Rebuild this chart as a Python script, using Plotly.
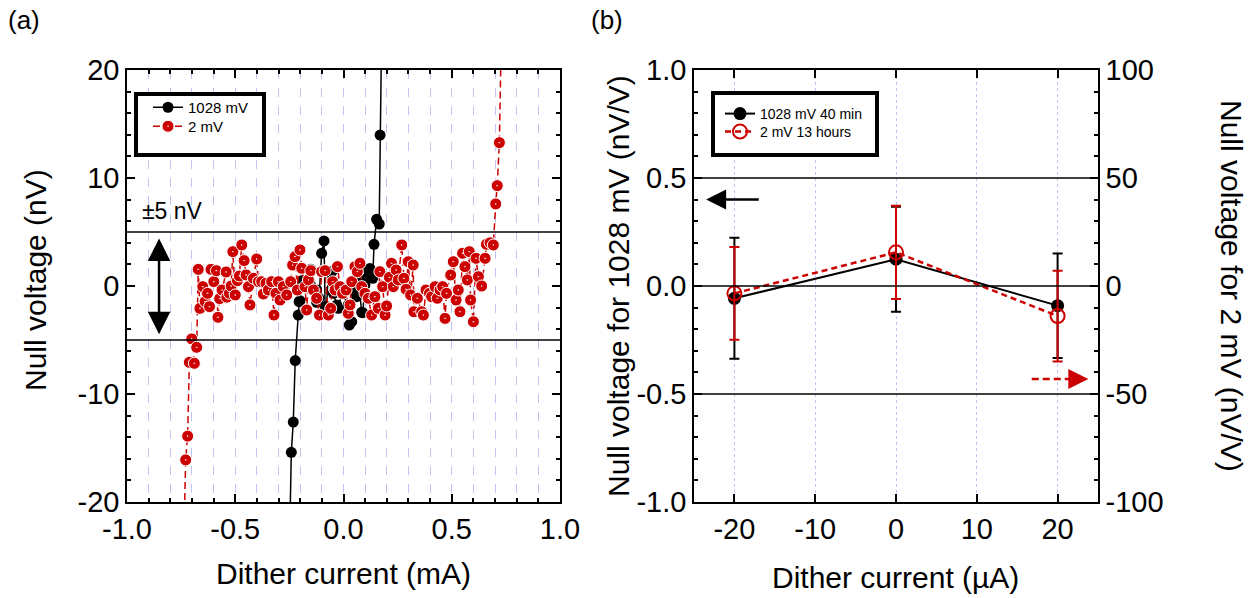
import plotly.graph_objects as go

# ---------------- data: panel (a) ----------------
a_black_x = [-0.255, -0.241, -0.232, -0.223, -0.209, -0.205, -0.201, -0.193, -0.155, -0.151,
             -0.124, -0.124, -0.113, -0.101, -0.090, -0.085, -0.078, -0.070, -0.054, -0.047,
             -0.031, -0.024, -0.008, 0.022, 0.027, 0.038, 0.045, 0.053, 0.061, 0.068,
             0.084, 0.089, 0.099, 0.107, 0.115, 0.122, 0.135, 0.141, 0.153, 0.165,
             0.169, 0.180]
a_black_y = [-30, -15.4, -12.6, -6.9, -2.69, -1.45, -1.36, 0.49, 1.33, 1.54,
             -0.37, -1.51, -1.14, 3.03, 4.17, -1.91, -1.91, 1.33, 1.33, -0.68,
             -1.76, -2.07, -0.68, -1.76, -3.61, -3.3, -0.37, -0.53, -0.99, 0.71,
             -2.44, -2.47, 0.09, 0.71, 1.48, 1.63, 0.71, 3.86, 6.17, 5.74,
             13.98, 30]

a_red_x = [-0.745, -0.729, -0.720, -0.712, -0.689, -0.701, -0.678, -0.671, -0.663, -0.650,
           -0.639, -0.628, -0.619, -0.612, -0.599, -0.587, -0.580, -0.572, -0.561, -0.542,
           -0.539, -0.527, -0.519, -0.511, -0.500, -0.490, -0.481, -0.470, -0.459, -0.450,
           -0.439, -0.432, -0.416, -0.401, -0.393, -0.378, -0.370, -0.358, -0.347, -0.332,
           -0.321, -0.312, -0.301, -0.293, -0.278, -0.262, -0.244, -0.235, -0.224, -0.213,
           -0.201, -0.193, -0.178, -0.170, -0.162, -0.151, -0.139, -0.124, -0.111, -0.101,
           -0.085, -0.070, -0.059, -0.050, -0.039, -0.028, -0.016, -0.004, 0.012, 0.022,
           0.030, 0.038, 0.053, 0.064, 0.076, 0.084, 0.099, 0.115, 0.130, 0.145,
           0.161, 0.168, 0.181, 0.192, 0.199, 0.212, 0.222, 0.230, 0.243, 0.253,
           0.269, 0.279, 0.289, 0.299, 0.310, 0.322, 0.325, 0.341, 0.361, 0.369,
           0.381, 0.397, 0.407, 0.423, 0.433, 0.446, 0.458, 0.469, 0.476, 0.495,
           0.507, 0.520, 0.530, 0.538, 0.550, 0.561, 0.572, 0.581, 0.587, 0.600,
           0.612, 0.623, 0.638, 0.654, 0.660, 0.677, 0.692, 0.703, 0.710, 0.720,
           0.735]
a_red_y = [-30, -16.1, -13.9, -7.07, -7.16, -4.9, -5.68, 1.54, -2.07, -0.06,
           -1.44, -0.68, -1.91, 1.54, 0.40, 1.42, -2.90, -1.17, -0.37, 1.30,
           -1.04, -0.68, 0.0, 3.18, -0.83, 0.49, 0.93, 3.80, 2.35, 1.02,
           -0.06, -1.75, 0.71, 2.50, 0.40, 0.40, -0.74, 0.25, -0.37, 0.40,
           -2.69, -0.68, 0.40, -1.30, -0.06, -0.83, 0.40, 1.94, 2.72, -0.37,
           3.34, 1.64, -0.06, -2.22, 0.56, 1.42, -0.37, -1.14, -2.69, 1.33,
           1.42, -2.69, -2.07, 0.40, -0.37, 1.79, -0.06, -0.68, -0.37, -2.53,
           -1.75, 0.40, 1.79, 1.33, 2.10, -0.06, -0.68, -1.14, -2.69, -0.99,
           -2.07, 1.33, -0.06, -2.69, -1.85, 0.80, 2.10, -0.06, 1.48, 0.56,
           3.80, 0.71, -0.31, 2.25, -0.83, 1.94, -2.38, -1.14, -2.38, -2.69,
           -0.37, -0.68, -0.99, -0.06, -1.14, -0.37, -0.06, -3.0, -0.68, 1.02,
           2.25, -1.30, -0.37, -2.38, 3.03, 1.79, 0.56, 3.18, -1.30, -3.31,
           2.56, 0.86, 0.0, 2.56, 3.86, 4.0, 3.8, 7.6, 9.29, 13.27,
           30]

# ---------------- data: panel (b) ----------------
b_x = [-20, 0, 20]
b_black_y = [-0.057, 0.124, -0.091]
b_black_err = [0.28, 0.243, 0.242]
b_red_y = [-3.4, 15.6, -13.9]
b_red_err = [21.5, 21.6, 21.0]

# ---------------- tick labels ----------------
a_xticks = [-1.0, -0.5, 0.0, 0.5, 1.0]
a_xlabels = ["-1.0", "-0.5", "0.0", "0.5", "1.0"]
a_yticks = [-20, -10, 0, 10, 20]
a_ylabels = ["-20", "-10", "0", "10", "20"]
b_xticks = [-20, -10, 0, 10, 20]
b_xlabels = ["-20", "-10", "0", "10", "20"]
b_yticks = [-1.0, -0.5, 0.0, 0.5, 1.0]
b_ylabels = ["-1.0", "-0.5", "0.0", "0.5", "1.0"]
b_y2ticks = [-100, -50, 0, 50, 100]
b_y2labels = ["-100", "-50", "0", "50", "100"]

RED = "#cc0000"
FONT = "Arial, 'Liberation Sans', sans-serif"
W, H = 1256, 598
GRID = "#c4c4f2"

fig = go.Figure()

fig.add_trace(go.Scatter(
    x=a_black_x, y=a_black_y, mode="lines+markers", name="1028 mV",
    line=dict(color="black", width=1.5),
    marker=dict(symbol="circle", size=11, color="black"),
    xaxis="x", yaxis="y", legend="legend"))
fig.add_trace(go.Scatter(
    x=a_red_x, y=a_red_y, mode="lines+markers", name="2 mV",
    line=dict(color=RED, width=1.5, dash="7px,4px"),
    marker=dict(symbol="circle-dot", size=12, color=RED, line=dict(color="white", width=1)),
    xaxis="x", yaxis="y", legend="legend2"))

fig.add_trace(go.Scatter(
    x=b_x, y=b_black_y, mode="lines+markers", name="1028 mV 40 min",
    line=dict(color="black", width=2),
    marker=dict(symbol="circle", size=13, color="black"),
    error_y=dict(type="data", array=b_black_err, color="black", thickness=2, width=5),
    xaxis="x2", yaxis="y2", legend="legend3"))
fig.add_trace(go.Scatter(
    x=b_x, y=b_red_y, mode="lines+markers", name="2 mV 13 hours",
    line=dict(color=RED, width=2.5, dash="6px,4px"),
    marker=dict(symbol="circle-open", size=14, color=RED, line=dict(width=2)),
    error_y=dict(type="data", array=b_red_err, color=RED, thickness=2, width=5),
    xaxis="x2", yaxis="y3", legend="legend4"))

ydom = [1 - 502 / H, 1 - 70 / H]
tickfont = dict(family=FONT, size=29, color="black")
common = dict(showline=True, linecolor="black", linewidth=1.5, ticks="inside",
              tickcolor="black", tickwidth=1.5, zeroline=False, tickfont=tickfont,
              automargin=False, tickmode="array")


def leg(x, y, size):
    return dict(x=x / W, y=1 - y / H, xanchor="left", yanchor="top",
                bgcolor="rgba(0,0,0,0)", borderwidth=0,
                font=dict(family=FONT, size=size, color="black"))


fig.update_layout(
    template="none",
    width=W, height=H, margin=dict(l=0, r=0, t=0, b=0, autoexpand=False),
    paper_bgcolor="white", plot_bgcolor="white",
    font=dict(family=FONT, color="black"),
    xaxis=dict(domain=[127 / W, 560 / W], range=[-1, 1],
               tickvals=a_xticks, ticktext=a_xlabels,
               mirror="ticks", ticklen=8, anchor="y",
               showgrid=True, gridcolor=GRID, griddash="dash", gridwidth=1,
               minor=dict(dtick=0.1, tick0=0, ticks="inside", ticklen=4, tickcolor="black",
                          showgrid=True, gridcolor=GRID, griddash="dash", gridwidth=1),
               **common),
    yaxis=dict(domain=ydom, range=[-20, 20], tickvals=a_yticks, ticktext=a_ylabels,
               mirror="ticks", ticklen=8, anchor="x", showgrid=False,
               minor=dict(dtick=2, tick0=0, ticks="inside", ticklen=4, tickcolor="black"),
               **common),
    xaxis2=dict(domain=[694 / W, 1098 / W], range=[-25, 25],
                tickvals=b_xticks, ticktext=b_xlabels,
                mirror="ticks", ticklen=8, anchor="y2",
                showgrid=True, gridcolor=GRID, griddash="dot", gridwidth=1, **common),
    yaxis2=dict(domain=ydom, range=[-1, 1], tickvals=b_yticks, ticktext=b_ylabels,
                ticklen=8, anchor="x2", showgrid=False,
                minor=dict(dtick=0.1, tick0=0, ticks="inside", ticklen=4, tickcolor="black"),
                **common),
    yaxis3=dict(range=[-100, 100], tickvals=b_y2ticks, ticktext=b_y2labels,
                overlaying="y2", side="right", anchor="x2",
                ticklen=8, showgrid=False,
                minor=dict(dtick=10, tick0=0, ticks="inside", ticklen=4, tickcolor="black"),
                **common),
    legend=leg(148, 91, 15),
    legend2=leg(148, 110, 15),
    legend3=leg(720, 98, 14),
    legend4=leg(720, 116, 14),
    showlegend=True,
)

# legend frames
for x0, x1, y0, y1 in ((136, 264, 94, 155), (713, 877, 93, 155)):
    fig.add_shape(type="rect", xref="paper", yref="paper", x0=x0 / W, x1=x1 / W,
                  y0=1 - y1 / H, y1=1 - y0 / H, layer="above",
                  line=dict(color="black", width=4), fillcolor="white")

# reference lines
for yv in (5, -5):
    fig.add_shape(type="line", xref="x domain", yref="y", x0=0, x1=1, y0=yv, y1=yv,
                  line=dict(color="black", width=1.5))
for yv in (0.5, 0, -0.5):
    fig.add_shape(type="line", xref="x2 domain", yref="y2", x0=0, x1=1, y0=yv, y1=yv,
                  line=dict(color="black", width=1.5))

# double arrow in (a)
fig.add_annotation(x=-0.852, y=4.4, ax=-0.852, ay=-4.6, xref="x", yref="y",
                   axref="x", ayref="y", showarrow=True, arrowhead=2, startarrowhead=2,
                   arrowside="end+start", arrowsize=1.8, startarrowsize=1.8,
                   arrowwidth=2.5, arrowcolor="black", text="", standoff=0, startstandoff=0)
fig.add_annotation(x=-0.79, y=6.9, xref="x", yref="y", text="±5 nV", showarrow=False,
                   font=dict(family=FONT, size=23, color="black"))

# arrows in (b)
fig.add_annotation(x=-23.5, y=0.40, ax=-16.8, ay=0.40, xref="x2", yref="y2",
                   axref="x2", ayref="y2", showarrow=True, arrowhead=2, arrowsize=1.6,
                   arrowwidth=2.5, arrowcolor="black", text="")
fig.add_shape(type="line", xref="x2", yref="y2", x0=16.8, x1=22.3, y0=-0.43, y1=-0.43,
              line=dict(color=RED, width=2.5, dash="7px,4px"))
fig.add_annotation(x=23.8, y=-0.43, ax=22.0, ay=-0.43, xref="x2", yref="y2",
                   axref="x2", ayref="y2", showarrow=True, arrowhead=2, arrowsize=1.6,
                   arrowwidth=2.5, arrowcolor=RED, text="")


# titles and panel labels
def label(text, x, y, angle=0, size=30):
    fig.add_annotation(x=x / W, y=1 - y / H, xref="paper", yref="paper", text=text,
                       xanchor="center", yanchor="middle",
                       showarrow=False, textangle=angle,
                       font=dict(family=FONT, size=size, color="black"))


label("Null voltage (nV)", 35, 280, -90)
label("Dither current (mA)", 343, 573)
label("Null voltage for 1028 mV (nV/V)", 618, 286, -90)
label("Null voltage for 2 mV (nV/V)", 1232, 286, 90)
label("Dither current (µA)", 896, 577)
label("(a)", 24, 20, size=26)
label("(b)", 607, 20, size=26)

fig.write_html("out.html", config={"displayModeBar": False},
               post_script="document.body.style.margin='0px';")
